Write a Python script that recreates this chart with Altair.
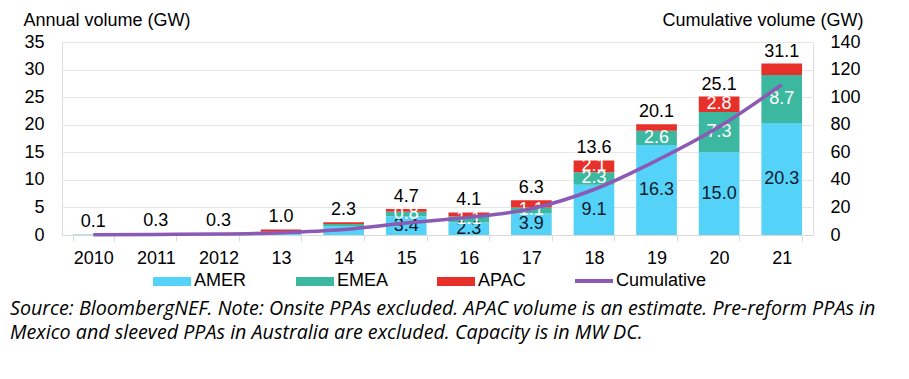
import altair as alt
import pandas as pd

years = ["2010", "2011", "2012", "13", "14", "15", "16", "17", "18", "19", "20", "21"]
regions = ["AMER", "EMEA", "APAC"]
region_colors = ["#55D2F7", "#3DB8A0", "#E8302A"]
label_colors = ["#0B1A2E", "#FFFFFF", "#FFFFFF"]
line_color = "#8A5AB5"

amer = [0.05, 0.2, 0.2, 0.5, 1.6, 3.4, 2.3, 3.9, 9.1, 16.3, 15.0, 20.3]
emea = [0.05, 0.1, 0.1, 0.1, 0.4, 0.8, 1.1, 1.1, 2.3, 2.6, 7.3, 8.7]
apac = [0.0, 0.0, 0.0, 0.4, 0.3, 0.5, 0.7, 1.3, 2.1, 1.2, 2.8, 2.1]
totals = [0.1, 0.3, 0.3, 1.0, 2.3, 4.7, 4.1, 6.3, 13.6, 20.1, 25.1, 31.1]
cumulative = [0.1, 0.4, 0.7, 1.7, 4.0, 8.7, 12.8, 19.1, 33.0, 54.0, 78.5, 109.0]

amer_labels = ["", "", "", "", "", "3.4", "2.3", "3.9", "9.1", "16.3", "15.0", "20.3"]
emea_labels = ["", "", "", "", "", "0.8", "1.1", "1.1", "2.3", "2.6", "7.3", "8.7"]
apac_labels = ["", "", "", "", "", "", "", "", "2.1", "", "2.8", ""]

legend_names = ["AMER", "EMEA", "APAC", "Cumulative"]
legend_colors = region_colors + [line_color]
legend_left = [91, 234, 375, 513]  # legend entry offsets (layout)

source_lines = [
    "Source: BloombergNEF. Note: Onsite PPAs excluded. APAC volume is an estimate. Pre-reform PPAs in",
    "Mexico and sleeved PPAs in Australia are excluded. Capacity is in MW DC.",
]

# ---- build tables ----
rows = []
series = [amer, emea, apac]
labels = [amer_labels, emea_labels, apac_labels]
for i, yr in enumerate(years):
    base = 0.0
    for r, reg in enumerate(regions):
        v = series[r][i]
        rows.append({
            "year": yr, "region": reg, "y0": base, "y1": base + v,
            "mid": base + v / 2, "label": labels[r][i], "lc": label_colors[r],
        })
        base += v
seg = pd.DataFrame(rows)
tot = pd.DataFrame({"year": years, "total": totals, "text": [f"{t:.1f}" for t in totals]})
cum = pd.DataFrame({"year": years, "cum": cumulative})
src = pd.DataFrame({"text": ["\n".join(source_lines)]})
one = pd.DataFrame({"k": [0]})

FONT = "Liberation Sans"

x_enc = alt.X(
    "year:N", sort=years, title=None,
    scale=alt.Scale(paddingInner=0.35, paddingOuter=0.175),
    axis=alt.Axis(
        labelAngle=0, labelFontSize=18, labelFont=FONT, labelColor="#000000",
        tickBand="extent", tickSize=6, tickColor="#D9D9D9", domainColor="#D9D9D9",
        labelPadding=8, grid=False,
    ),
)
left_axis = alt.Axis(
    values=list(range(0, 36, 5)), grid=True, gridColor="#E6E6E6", domain=False,
    ticks=False, labelFontSize=18, labelFont=FONT, labelColor="#000000", labelPadding=18,
    title="Annual volume (GW)", titleAngle=0, titleAlign="left", titleBaseline="alphabetic",
    titleX=-39, titleY=-17, titleFontSize=18, titleFontWeight="normal", titleFont=FONT,
    titleColor="#000000",
)
left_scale = alt.Scale(domain=[0, 35], nice=False)

bars = alt.Chart(seg).mark_bar().encode(
    x=x_enc,
    y=alt.Y("y0:Q", scale=left_scale, axis=left_axis),
    y2="y1:Q",
    color=alt.Color("region:N", scale=alt.Scale(domain=regions, range=region_colors), legend=None),
)

seg_text = alt.Chart(seg).mark_text(fontSize=18, font=FONT, baseline="middle").encode(
    x=x_enc,
    y=alt.Y("mid:Q", scale=left_scale, axis=left_axis),
    text="label:N",
    color=alt.Color("lc:N", scale=None),
)

tot_text = alt.Chart(tot).mark_text(
    fontSize=18, font=FONT, baseline="alphabetic", dy=-7, color="#000000"
).encode(
    x=x_enc,
    y=alt.Y("total:Q", scale=left_scale, axis=left_axis),
    text="text:N",
)

src_text = alt.Chart(src).mark_text(
    font="Open Sans", fontStyle="italic", fontSize=19.7, align="left",
    baseline="alphabetic", lineBreak="\n", lineHeight=24, color="#000000",
).encode(
    x=alt.value(-52), y=alt.value(273), text="text:N",
)

# manual legend (guide layout)
legend_layers = []
for name, col, lx in zip(legend_names, legend_colors, legend_left):
    if name == "Cumulative":
        sym = alt.Chart(one).mark_rule(color=col, strokeWidth=4).encode(
            x=alt.value(lx), x2=alt.value(lx + 38), y=alt.value(239)
        )
    else:
        sym = alt.Chart(one).mark_rect(color=col).encode(
            x=alt.value(lx), x2=alt.value(lx + 38), y=alt.value(235), y2=alt.value(244)
        )
    lab = alt.Chart(one).mark_text(
        fontSize=18, font=FONT, align="left", baseline="middle", color="#000000"
    ).encode(x=alt.value(lx + 41), y=alt.value(239), text=alt.value(name))
    legend_layers += [sym, lab]

left = alt.layer(bars, seg_text, tot_text, src_text, *legend_layers)

line = alt.Chart(cum).mark_line(strokeWidth=3.5, interpolate="monotone", color=line_color).encode(
    x=x_enc,
    y=alt.Y(
        "cum:Q", scale=alt.Scale(domain=[0, 140], nice=False),
        axis=alt.Axis(
            orient="right", values=list(range(0, 141, 20)), grid=False, domain=False,
            ticks=False, labelFontSize=18, labelFont=FONT, labelColor="#000000",
            labelPadding=17, title="Cumulative volume (GW)", titleAngle=0,
            titleAlign="right", titleBaseline="alphabetic", titleX=50, titleY=-17,
            titleFontSize=18, titleFontWeight="normal", titleFont=FONT, titleColor="#000000",
        ),
    ),
)

chart = alt.layer(left, line).resolve_scale(y="independent").properties(
    width=751, height=193,
    autosize=alt.AutoSizeParams(type="none"),
    padding={"left": 54, "top": 34, "right": 88, "bottom": 136},
).configure_view(stroke=None).configure(background="#FFFFFF")

chart.save("out.html", embed_options={"renderer": "svg", "actions": False})
